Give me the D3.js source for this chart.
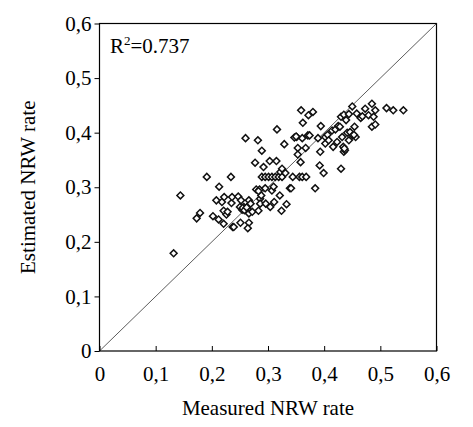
<!DOCTYPE html>
<html>
<head>
<meta charset="utf-8">
<script src="https://cdn.jsdelivr.net/npm/d3@7"></script>
<style>
  body { margin: 0; background: #fff; }
  text { font-family: "Liberation Serif", "Times New Roman", serif; fill: #000; }
</style>
</head>
<body>
<script>
// measured vs estimated NRW rate
const measured = [0.132, 0.144, 0.173, 0.179, 0.191, 0.202, 0.208, 0.213, 0.212, 0.218,
  0.222, 0.221, 0.221, 0.226, 0.228, 0.234, 0.235, 0.236, 0.237, 0.239,
  0.247, 0.250, 0.252, 0.251, 0.254, 0.257, 0.260, 0.261, 0.263, 0.264,
  0.266, 0.266, 0.266, 0.264, 0.269, 0.272, 0.277, 0.279, 0.282, 0.283,
  0.285, 0.286, 0.286, 0.288, 0.289, 0.289, 0.292, 0.295, 0.295, 0.296,
  0.301, 0.303, 0.304, 0.307, 0.307, 0.310, 0.311, 0.313, 0.315, 0.316,
  0.319, 0.321, 0.322, 0.324, 0.325, 0.325, 0.329, 0.331, 0.333, 0.339,
  0.341, 0.344, 0.347, 0.351, 0.353, 0.353, 0.356, 0.358, 0.359, 0.361,
  0.361, 0.362, 0.367, 0.368, 0.371, 0.372, 0.374, 0.380, 0.384, 0.389,
  0.392, 0.394, 0.393, 0.399, 0.402, 0.402, 0.406, 0.408, 0.414, 0.416,
  0.420, 0.423, 0.425, 0.428, 0.430, 0.430, 0.432, 0.434, 0.435, 0.435,
  0.437, 0.439, 0.441, 0.444, 0.444, 0.446, 0.450, 0.451, 0.454, 0.456,
  0.458, 0.465, 0.468, 0.473, 0.479, 0.485, 0.485, 0.488, 0.491, 0.491,
  0.511, 0.523, 0.541, 0.255, 0.258, 0.262, 0.283, 0.350, 0.436, 0.453];
const estimated = [0.179, 0.285, 0.243, 0.253, 0.319, 0.247, 0.276, 0.301, 0.241, 0.273,
  0.282, 0.257, 0.233, 0.250, 0.255, 0.319, 0.271, 0.282, 0.227, 0.227,
  0.283, 0.264, 0.276, 0.235, 0.259, 0.264, 0.390, 0.261, 0.264, 0.259,
  0.276, 0.252, 0.235, 0.225, 0.270, 0.255, 0.345, 0.296, 0.386, 0.257,
  0.296, 0.279, 0.270, 0.285, 0.367, 0.319, 0.337, 0.319, 0.298, 0.270,
  0.319, 0.348, 0.264, 0.319, 0.294, 0.301, 0.273, 0.319, 0.348, 0.406,
  0.319, 0.285, 0.328, 0.257, 0.334, 0.319, 0.379, 0.326, 0.269, 0.298,
  0.298, 0.319, 0.391, 0.392, 0.360, 0.372, 0.319, 0.346, 0.441, 0.319,
  0.390, 0.418, 0.372, 0.319, 0.395, 0.432, 0.395, 0.438, 0.298, 0.390,
  0.340, 0.412, 0.365, 0.326, 0.392, 0.380, 0.396, 0.386, 0.404, 0.374,
  0.406, 0.383, 0.412, 0.411, 0.334, 0.429, 0.392, 0.374, 0.433, 0.365,
  0.368, 0.423, 0.400, 0.434, 0.386, 0.401, 0.448, 0.395, 0.411, 0.392,
  0.435, 0.427, 0.430, 0.444, 0.432, 0.453, 0.411, 0.429, 0.441, 0.415,
  0.445, 0.441, 0.441, 0.262, 0.258, 0.263, 0.293, 0.393, 0.371, 0.396];
const ticks = [0, 0.1, 0.2, 0.3, 0.4, 0.5, 0.6];
const r2Label = "0.737";

const W = 473, H = 427;
const m = { left: 99.5, right: 36.5, top: 23.5, bottom: 76 };

const svg = d3.select("body").append("svg")
    .attr("width", W)
    .attr("height", H);

const x = d3.scaleLinear().domain([0, 0.6]).range([m.left, W - m.right]);
const y = d3.scaleLinear().domain([0, 0.6]).range([H - m.bottom, m.top]);
const fmt = d => d === 0 ? "0" : d3.format(".1f")(d).replace(".", ",");

// frame
svg.append("rect")
    .attr("x", x(0)).attr("y", y(0.6))
    .attr("width", x(0.6) - x(0)).attr("height", y(0) - y(0.6))
    .attr("fill", "none").attr("stroke", "#000").attr("stroke-width", 1.2);

// 1:1 line
svg.append("line")
    .attr("x1", x(0)).attr("y1", y(0))
    .attr("x2", x(0.6)).attr("y2", y(0.6))
    .attr("stroke", "#333").attr("stroke-width", 0.8);

// x axis, ticks point inward
const xAxis = svg.append("g")
    .attr("transform", `translate(0,${y(0)})`)
    .call(d3.axisBottom(x).tickValues(ticks).tickFormat(fmt).tickSizeInner(-5).tickSizeOuter(0).tickPadding(15));
xAxis.select(".domain").remove();
xAxis.selectAll("line").attr("stroke", "#000");
xAxis.selectAll("text").attr("font-size", 21).attr("font-family", "Liberation Serif");

// y axis, ticks point outward
const yAxis = svg.append("g")
    .attr("transform", `translate(${x(0)},0)`)
    .call(d3.axisLeft(y).tickValues(ticks).tickFormat(fmt).tickSizeInner(5).tickSizeOuter(0).tickPadding(3));
yAxis.select(".domain").remove();
yAxis.selectAll("line").attr("stroke", "#000");
yAxis.selectAll("text").attr("font-size", 21).attr("font-family", "Liberation Serif");

// points
const diamond = d3.symbol().type(d3.symbolSquare).size(24)();
svg.append("g").selectAll("path")
    .data(d3.zip(measured, estimated))
    .join("path")
    .attr("d", diamond)
    .attr("transform", d => `translate(${x(d[0])},${y(d[1])}) rotate(45)`)
    .attr("fill", "#fff")
    .attr("stroke", "#111")
    .attr("stroke-width", 1.5);

// R2 label
const r2 = svg.append("text")
    .attr("x", 110).attr("y", 53)
    .attr("font-size", 21);
r2.append("tspan").text("R");
r2.append("tspan").attr("font-size", 13).attr("dy", -8).text("2");
r2.append("tspan").attr("dy", 8).text("=" + r2Label);

// axis titles
svg.append("text")
    .attr("x", (x(0) + x(0.6)) / 2).attr("y", 415)
    .attr("text-anchor", "middle").attr("font-size", 21)
    .text("Measured NRW rate");
svg.append("text")
    .attr("transform", `translate(35,${(y(0) + y(0.6)) / 2}) rotate(-90)`)
    .attr("text-anchor", "middle").attr("font-size", 21)
    .text("Estimated NRW rate");
</script>
</body>
</html>
